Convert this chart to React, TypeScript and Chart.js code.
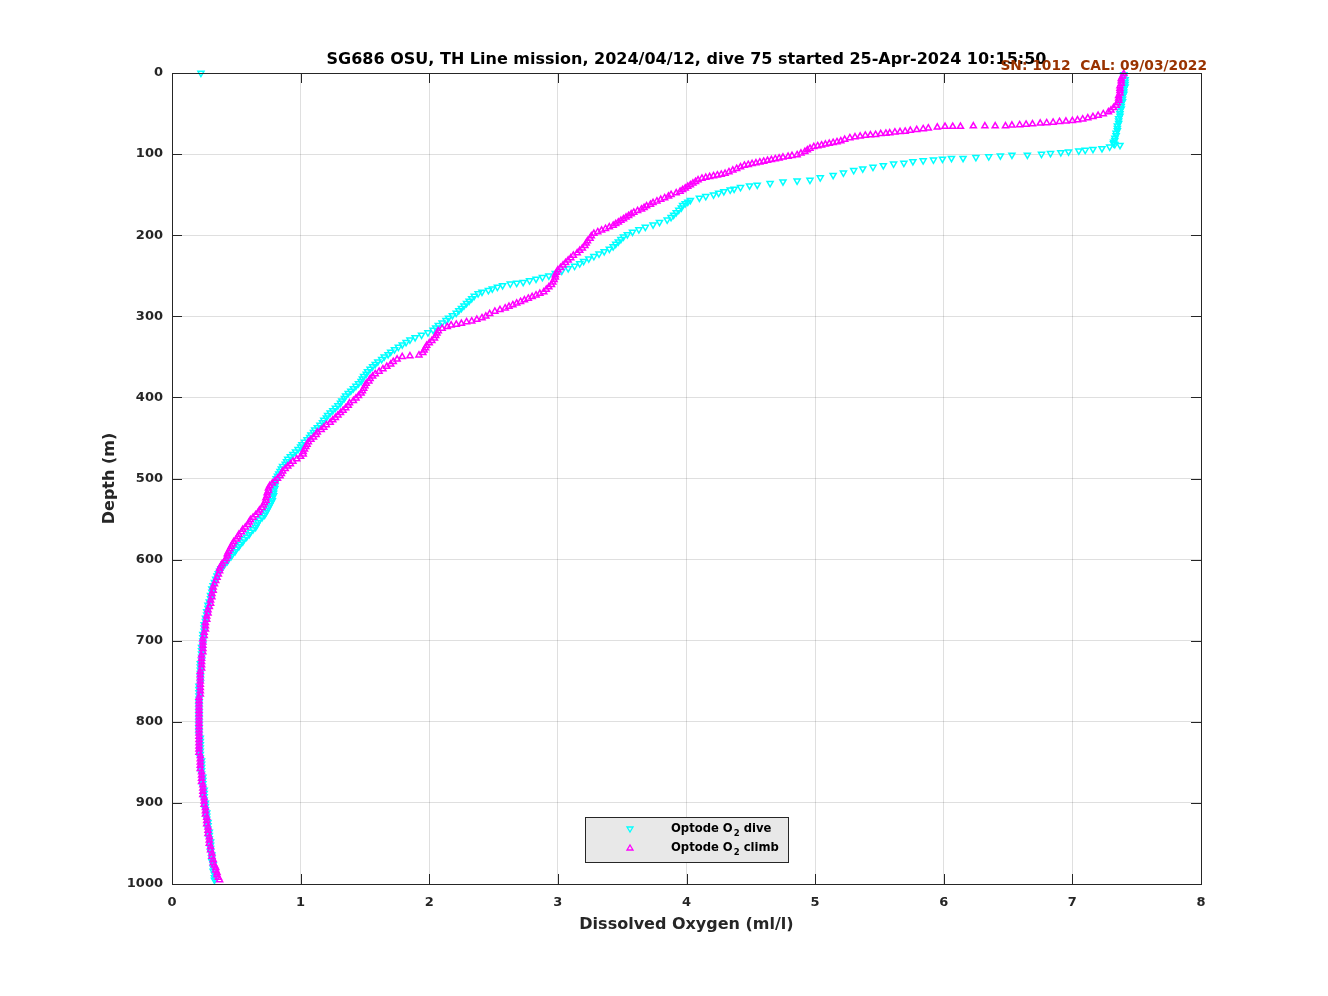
import React, { useEffect, useRef } from 'react';
import { Chart, registerables } from 'chart.js';
Chart.register(...registerables);

const xTicks = [0, 1, 2, 3, 4, 5, 6, 7, 8];
const yTicks = [0, 100, 200, 300, 400, 500, 600, 700, 800, 900, 1000];

const titleText = 'SG686 OSU, TH Line mission, 2024/04/12, dive 75 started 25-Apr-2024 10:15:50';
const calText = 'SN: 1012  CAL: 09/03/2022';
const xLabel = 'Dissolved Oxygen (ml/l)';
const yLabel = 'Depth (m)';
const legendDive = ['Optode O', '2', ' dive'];
const legendClimb = ['Optode O', '2', ' climb'];

// Dive (downcast): depth (m) and O2 (ml/l)
const diveDepth = [0, 2, 5, 8, 11, 14, 17, 20, 23, 26, 29, 32, 35, 38, 41, 44, 47, 50, 53, 56, 59, 62, 65, 68, 71, 74, 77, 80, 83, 85, 87, 88, 89,
  91, 93, 94, 95, 96, 97, 98, 99, 100, 101, 101, 102, 103, 104, 105, 105, 106, 107, 108, 109, 111, 112, 114, 116, 118, 120, 123, 126, 129, 132, 133, 134, 136, 138, 139,
  141, 143, 144, 146, 148, 150, 152, 154, 157, 159, 161, 163, 166, 169, 172, 175, 178, 181, 184, 187, 190, 193, 196, 199, 202, 205, 208, 211, 214, 217, 220, 223, 226, 229, 232, 235, 238, 241, 244, 247, 250, 252, 254, 256, 258, 259, 260, 262, 264, 266, 268, 270, 272, 275, 278, 281, 284, 287, 290, 293, 296, 299,
  302, 305, 308, 311, 314, 317, 320, 323, 326, 329, 332, 335, 338, 341, 344, 347, 350, 353, 356, 359, 362, 365, 368, 371, 374, 377, 380, 383, 386, 389, 392, 395, 398,
  401, 404, 407, 410, 413, 416, 419, 422, 425, 428, 431, 434, 437, 440, 443, 446, 449, 452, 455, 458, 461, 464, 467, 470, 473, 476, 479, 482, 485, 488, 491, 494, 497,
  500, 503, 506, 509, 512, 515, 518, 521, 524, 527, 530, 533, 536, 539, 542, 545, 548, 551, 554, 557, 560, 563, 566, 569, 572, 575, 578, 581, 584, 587, 590, 593, 596, 599,
  602, 605, 608, 611, 614, 617, 620, 624, 628, 632, 636, 640, 644, 648, 652, 656, 660, 664, 668, 672, 676, 680, 684, 688, 692, 696,
  700, 704, 708, 712, 716, 720, 724, 728, 732, 736, 740, 744, 748, 752, 756, 760, 764, 768, 772, 776, 780, 784, 788, 792, 796,
  800, 804, 808, 812, 816, 820, 824, 828, 832, 836, 840, 844, 848, 852, 856, 860, 864, 868, 872, 876, 880, 884, 888, 892, 896,
  900, 904, 908, 912, 916, 920, 924, 928, 932, 936, 940, 944, 948, 952, 956, 960, 964, 968, 972, 976, 980, 984, 988, 992, 995];
const diveO2 = [0.225, 7.40, 7.40, 7.41, 7.41, 7.41, 7.41, 7.40, 7.40, 7.40, 7.39, 7.39, 7.39, 7.38, 7.38, 7.38, 7.37, 7.37, 7.37, 7.36, 7.36, 7.36, 7.35, 7.35, 7.35, 7.34, 7.34, 7.33, 7.33, 7.32, 7.32, 7.33, 7.37,
  7.29, 7.23, 7.16, 7.10, 7.05, 6.97, 6.91, 6.83, 6.76, 6.65, 6.53, 6.44, 6.35, 6.25, 6.15, 6.06, 5.99, 5.92, 5.84, 5.76, 5.69, 5.61, 5.53, 5.45, 5.37, 5.30, 5.22, 5.14, 5.04, 4.96, 4.86, 4.75, 4.65, 4.55, 4.49,
  4.42, 4.37, 4.34, 4.29, 4.25, 4.21, 4.15, 4.10, 4.03, 4.01, 3.99, 3.97, 3.96, 3.94, 3.92, 3.90, 3.88, 3.85, 3.79, 3.74, 3.68, 3.63, 3.58, 3.54, 3.51, 3.49, 3.47, 3.45, 3.43, 3.40, 3.36, 3.32, 3.28, 3.24, 3.20, 3.17, 3.13, 3.08, 3.03, 2.98, 2.93, 2.88, 2.83, 2.78, 2.73, 2.68, 2.63, 2.57, 2.53, 2.49, 2.46, 2.41, 2.38, 2.35, 2.33, 2.31, 2.29, 2.27, 2.25, 2.23, 2.21, 2.18,
  2.15, 2.13, 2.10, 2.07, 2.05, 2.03, 1.99, 1.94, 1.89, 1.85, 1.82, 1.79, 1.76, 1.73, 1.70, 1.68, 1.65, 1.63, 1.60, 1.58, 1.56, 1.54, 1.52, 1.51, 1.49, 1.48, 1.47, 1.45, 1.43, 1.41, 1.39, 1.37, 1.35,
  1.34, 1.32, 1.31, 1.29, 1.27, 1.25, 1.23, 1.21, 1.20, 1.18, 1.17, 1.15, 1.13, 1.11, 1.10, 1.08, 1.07, 1.05, 1.03, 1.01, 1.00, 0.98, 0.96, 0.94, 0.92, 0.90, 0.89, 0.88, 0.86, 0.85, 0.84, 0.83, 0.82,
  0.81, 0.81, 0.80, 0.80, 0.80, 0.79, 0.79, 0.79, 0.78, 0.78, 0.77, 0.76, 0.75, 0.74, 0.73, 0.72, 0.70, 0.68, 0.67, 0.66, 0.65, 0.63, 0.61, 0.60, 0.58, 0.56, 0.55, 0.53, 0.52, 0.50, 0.49, 0.47, 0.46, 0.44,
  0.43, 0.41, 0.40, 0.38, 0.37, 0.36, 0.35, 0.34, 0.33, 0.32, 0.31, 0.31, 0.30, 0.30, 0.29, 0.28, 0.28, 0.27, 0.27, 0.26, 0.26, 0.25, 0.25, 0.25, 0.24, 0.24,
  0.24, 0.24, 0.23, 0.23, 0.23, 0.23, 0.23, 0.22, 0.22, 0.22, 0.22, 0.22, 0.22, 0.22, 0.21, 0.21, 0.21, 0.21, 0.21, 0.21, 0.21, 0.21, 0.21, 0.21, 0.21,
  0.21, 0.21, 0.21, 0.21, 0.21, 0.22, 0.22, 0.22, 0.22, 0.22, 0.22, 0.22, 0.23, 0.23, 0.23, 0.23, 0.23, 0.24, 0.24, 0.24, 0.24, 0.25, 0.25, 0.25, 0.25,
  0.26, 0.26, 0.26, 0.27, 0.27, 0.27, 0.28, 0.28, 0.28, 0.29, 0.29, 0.29, 0.30, 0.30, 0.30, 0.30, 0.31, 0.31, 0.31, 0.32, 0.32, 0.32, 0.33, 0.33, 0.33];

// Climb (upcast): depth (m) and O2 (ml/l)
const climbDepth = [995, 992, 989, 986, 983, 980, 977, 974, 970, 966, 962, 958, 954, 950, 946, 942, 938, 934, 930, 926, 922, 918, 914, 910, 906, 902,
  898, 894, 890, 886, 882, 878, 874, 870, 866, 862, 858, 854, 850, 846, 842, 838, 834, 830, 826, 822, 818, 814, 810, 806, 802,
  798, 794, 790, 786, 782, 778, 774, 770, 766, 762, 758, 754, 750, 746, 742, 738, 734, 730, 726, 722, 718, 714, 710, 706, 702,
  698, 694, 690, 686, 682, 678, 674, 670, 666, 662, 658, 654, 650, 646, 642, 638, 634, 630, 626, 622, 618, 614, 611, 608, 605, 602,
  599, 596, 593, 590, 587, 584, 581, 578, 575, 572, 569, 566, 563, 560, 557, 554, 551, 548, 545, 542, 539, 536, 533, 530, 527, 524, 521, 518, 515, 512, 509, 506, 503,
  500, 497, 494, 491, 488, 485, 482, 479, 476, 473, 470, 467, 464, 461, 458, 455, 452, 449, 446, 443, 440, 437, 434, 431, 428, 425, 422, 419, 416, 413, 410, 407, 404, 401,
  398, 395, 392, 389, 386, 383, 380, 377, 374, 371, 368, 365, 362, 359, 356, 353, 350, 349, 348, 345, 342, 339, 336, 333, 330, 327, 324, 321, 318, 315, 313, 311, 310, 309, 307, 306, 304, 302,
  300, 297, 294, 292, 290, 288, 286, 284, 282, 280, 278, 276, 274, 272, 270, 267, 264, 261, 258, 255, 252, 249, 246, 243, 240, 237, 234, 231, 228, 225, 222, 219, 216, 213, 210, 207, 204, 201,
  198, 196, 194, 192, 190, 188, 186, 184, 182, 180, 178, 176, 174, 172, 170, 168, 166, 164, 162, 160, 158, 156, 154, 152, 150, 148, 146, 144, 142, 140, 138, 136, 134, 132, 130,
  129, 128, 127, 126, 125, 124, 122, 120, 118, 116, 114, 113, 112, 111, 110, 109, 108, 107, 106, 105, 104, 103, 102, 101, 99, 97, 95, 93, 91, 90, 89, 88, 87, 86, 85, 84, 82, 80,
  79, 78, 77, 76.5, 76, 75, 74.5, 74, 73, 72.5, 72, 71, 70, 69, 68, 67, 66, 66, 66, 65.5, 65.5, 65.5, 65.5, 64.5, 64, 63.5, 63, 62, 61.5, 61, 60, 59.5, 59, 58, 57, 55.5, 54, 52.5, 50.5, 48, 46, 43,
  40, 37, 34, 31, 28, 25, 22, 19, 16, 13, 10, 7, 4, 1];
const climbO2 = [0.37, 0.36, 0.35, 0.35, 0.34, 0.34, 0.33, 0.32, 0.32, 0.31, 0.31, 0.30, 0.30, 0.29, 0.29, 0.29, 0.28, 0.28, 0.28, 0.27, 0.27, 0.27, 0.26, 0.26, 0.26, 0.25,
  0.25, 0.25, 0.24, 0.24, 0.24, 0.24, 0.23, 0.23, 0.23, 0.23, 0.22, 0.22, 0.22, 0.22, 0.22, 0.21, 0.21, 0.21, 0.21, 0.21, 0.21, 0.21, 0.21, 0.21, 0.21,
  0.21, 0.21, 0.21, 0.21, 0.21, 0.21, 0.21, 0.21, 0.22, 0.22, 0.22, 0.22, 0.22, 0.22, 0.22, 0.22, 0.23, 0.23, 0.23, 0.23, 0.23, 0.24, 0.24, 0.24, 0.24,
  0.24, 0.25, 0.25, 0.26, 0.26, 0.26, 0.27, 0.27, 0.28, 0.28, 0.29, 0.30, 0.30, 0.31, 0.31, 0.32, 0.32, 0.33, 0.34, 0.35, 0.36, 0.37, 0.37, 0.38, 0.39, 0.41,
  0.42, 0.43, 0.43, 0.44, 0.45, 0.46, 0.47, 0.48, 0.50, 0.51, 0.52, 0.54, 0.55, 0.57, 0.59, 0.60, 0.61, 0.63, 0.65, 0.67, 0.68, 0.70, 0.71, 0.72, 0.73, 0.73, 0.74, 0.74, 0.75, 0.75, 0.76, 0.78, 0.80,
  0.82, 0.84, 0.85, 0.86, 0.88, 0.90, 0.92, 0.94, 0.97, 1.00, 1.02, 1.02, 1.03, 1.04, 1.05, 1.06, 1.08, 1.10, 1.12, 1.13, 1.16, 1.18, 1.20, 1.23, 1.25, 1.27, 1.29, 1.31, 1.33, 1.35, 1.37, 1.38, 1.41, 1.43,
  1.45, 1.47, 1.48, 1.49, 1.50, 1.51, 1.53, 1.54, 1.56, 1.58, 1.61, 1.64, 1.67, 1.70, 1.72, 1.75, 1.79, 1.85, 1.92, 1.95, 1.96, 1.97, 1.98, 2.00, 2.02, 2.04, 2.05, 2.06, 2.07, 2.10, 2.14, 2.17, 2.21, 2.25, 2.29, 2.33, 2.37, 2.41,
  2.44, 2.47, 2.51, 2.55, 2.59, 2.62, 2.65, 2.68, 2.71, 2.74, 2.77, 2.80, 2.83, 2.86, 2.89, 2.91, 2.93, 2.95, 2.96, 2.97, 2.98, 2.98, 2.99, 3.00, 3.02, 3.04, 3.06, 3.08, 3.10, 3.12, 3.15, 3.17, 3.19, 3.21, 3.22, 3.23, 3.25, 3.26,
  3.28, 3.31, 3.34, 3.37, 3.40, 3.43, 3.45, 3.47, 3.49, 3.51, 3.53, 3.55, 3.57, 3.59, 3.62, 3.65, 3.67, 3.69, 3.72, 3.74, 3.77, 3.80, 3.83, 3.86, 3.88, 3.92, 3.95, 3.97, 3.99, 4.01, 4.03, 4.05, 4.07, 4.09, 4.12,
  4.15, 4.18, 4.21, 4.24, 4.27, 4.30, 4.33, 4.36, 4.39, 4.42, 4.45, 4.48, 4.51, 4.54, 4.57, 4.60, 4.63, 4.66, 4.69, 4.72, 4.75, 4.79, 4.82, 4.86, 4.89, 4.92, 4.94, 4.96, 4.99, 5.02, 5.05, 5.08, 5.11, 5.14, 5.17, 5.20, 5.23, 5.27,
  5.31, 5.35, 5.39, 5.43, 5.47, 5.51, 5.55, 5.58, 5.62, 5.66, 5.70, 5.74, 5.79, 5.84, 5.88, 5.95, 6.01, 6.07, 6.13, 6.23, 6.32, 6.40, 6.48, 6.53, 6.59, 6.64, 6.69, 6.75, 6.80, 6.85, 6.90, 6.95, 7.00, 7.04, 7.08, 7.12, 7.16, 7.20, 7.24, 7.28, 7.30, 7.32,
  7.34, 7.35, 7.36, 7.36, 7.36, 7.37, 7.37, 7.37, 7.37, 7.38, 7.38, 7.38, 7.39, 7.40];

const FONT = '"DejaVu Sans", "Liberation Sans", sans-serif';
const INK = '#262626';

function drawSubText(ctx: CanvasRenderingContext2D, parts: string[], x: number, y: number) {
  ctx.font = `bold 11.6px ${FONT}`;
  ctx.fillText(parts[0], x, y);
  let cx = x + ctx.measureText(parts[0]).width + 1;
  ctx.font = `bold 8.5px ${FONT}`;
  ctx.fillText(parts[1], cx, y + 4);
  cx += ctx.measureText(parts[1]).width;
  ctx.font = `bold 11.6px ${FONT}`;
  ctx.fillText(parts[2], cx, y);
}

const framePlugin = {
  id: 'matlabFrame',
  afterDraw(chart: any) {
    const { ctx, chartArea: a, scales } = chart;
    ctx.save();
    ctx.strokeStyle = INK;
    ctx.lineWidth = 1;
    ctx.strokeRect(Math.round(a.left) + 0.5, Math.round(a.top) + 0.5, Math.round(a.right - a.left), Math.round(a.bottom - a.top));
    const L = 10;
    ctx.beginPath();
    xTicks.forEach((v) => {
      const px = Math.round(scales.x.getPixelForValue(v)) + 0.5;
      ctx.moveTo(px, a.bottom); ctx.lineTo(px, a.bottom - L);
      ctx.moveTo(px, a.top); ctx.lineTo(px, a.top + L);
    });
    yTicks.forEach((v) => {
      const py = Math.round(scales.y.getPixelForValue(v)) + 0.5;
      ctx.moveTo(a.left, py); ctx.lineTo(a.left + L, py);
      ctx.moveTo(a.right, py); ctx.lineTo(a.right - L, py);
    });
    ctx.stroke();

    ctx.fillStyle = '#000000';
    ctx.font = `bold 16px ${FONT}`;
    ctx.textAlign = 'center';
    ctx.textBaseline = 'middle';
    ctx.fillText(titleText, (a.left + a.right) / 2, 60);
    ctx.fillStyle = '#993300';
    ctx.font = `bold 13.8px ${FONT}`;
    ctx.textAlign = 'right';
    ctx.fillText(calText, 1207, 66);

    ctx.fillStyle = INK;
    ctx.font = `bold 16px ${FONT}`;
    ctx.textAlign = 'center';
    ctx.fillText(xLabel, (a.left + a.right) / 2, 925);
    ctx.save();
    ctx.translate(110, (a.top + a.bottom) / 2);
    ctx.rotate(-Math.PI / 2);
    ctx.fillText(yLabel, 0, 0);
    ctx.restore();

    ctx.fillStyle = '#e8e8e8';
    ctx.fillRect(585, 817, 203, 45);
    ctx.strokeStyle = INK;
    ctx.lineWidth = 1;
    ctx.strokeRect(585.5, 817.5, 203, 45);
    ctx.lineWidth = 1.3;
    ctx.strokeStyle = '#00ffff';
    ctx.beginPath();
    ctx.moveTo(627, 827); ctx.lineTo(633, 827); ctx.lineTo(630, 832); ctx.closePath();
    ctx.stroke();
    ctx.strokeStyle = '#ff00ff';
    ctx.beginPath();
    ctx.moveTo(627, 850); ctx.lineTo(633, 850); ctx.lineTo(630, 845); ctx.closePath();
    ctx.stroke();
    ctx.fillStyle = '#000000';
    ctx.textAlign = 'left';
    ctx.textBaseline = 'alphabetic';
    drawSubText(ctx, legendDive, 671, 832);
    drawSubText(ctx, legendClimb, 671, 851);
    ctx.restore();
  },
};

export default function App() {
  const ref = useRef<HTMLCanvasElement | null>(null);
  useEffect(() => {
    document.body.style.margin = '0';
    const canvas = ref.current!;
    const dive = diveDepth.map((d, i) => ({ x: diveO2[i], y: d }));
    const climb = climbDepth.map((d, i) => ({ x: climbO2[i], y: d }));
    const chart = new Chart(canvas, {
      type: 'scatter',
      data: {
        datasets: [
          {
            label: 'Optode O2 dive',
            data: dive,
            pointStyle: 'triangle',
            rotation: 180,
            pointRadius: 3.5,
            borderWidth: 1.5,
            borderColor: '#00ffff',
            backgroundColor: 'rgba(0,0,0,0)',
            showLine: false,
            clip: false as any,
            order: 1,
          },
          {
            label: 'Optode O2 climb',
            data: climb,
            pointStyle: 'triangle',
            pointRadius: 3.5,
            borderWidth: 1.5,
            borderColor: '#ff00ff',
            backgroundColor: 'rgba(0,0,0,0)',
            showLine: false,
            clip: false as any,
            order: 0,
          },
        ],
      },
      options: {
        responsive: false,
        animation: false,
        devicePixelRatio: 1,
        layout: { padding: { left: 72, right: 127, top: 73, bottom: 42 } },
        plugins: { legend: { display: false }, tooltip: { enabled: false }, title: { display: false } },
        scales: {
          x: {
            type: 'linear',
            min: 0,
            max: 8,
            afterBuildTicks: (s: any) => { s.ticks = xTicks.map((v) => ({ value: v })); },
            afterFit: (s: any) => { s.height = 70; },
            ticks: { color: INK, font: { family: FONT, size: 13, weight: 'bold' }, padding: 11, maxRotation: 0, callback: (v: any) => String(v) },
            grid: { color: 'rgba(38,38,38,0.15)', drawTicks: false },
            border: { display: false },
          },
          y: {
            type: 'linear',
            reverse: true,
            min: 0,
            max: 1000,
            afterBuildTicks: (s: any) => { s.ticks = yTicks.map((v) => ({ value: v })); },
            afterFit: (s: any) => { s.width = 100; },
            ticks: { color: INK, font: { family: FONT, size: 13, weight: 'bold' }, padding: 9, callback: (v: any) => String(v) },
            grid: { color: 'rgba(38,38,38,0.15)', drawTicks: false },
            border: { display: false },
          },
        },
      },
      plugins: [framePlugin],
    } as any);
    return () => chart.destroy();
  }, []);
  return (
    <div style={{ position: 'absolute', left: 0, top: 0, width: 1328, height: 996, background: '#ffffff' }}>
      <canvas ref={ref} width={1328} height={996} style={{ display: 'block', width: 1328, height: 996 }} />
    </div>
  );
}
